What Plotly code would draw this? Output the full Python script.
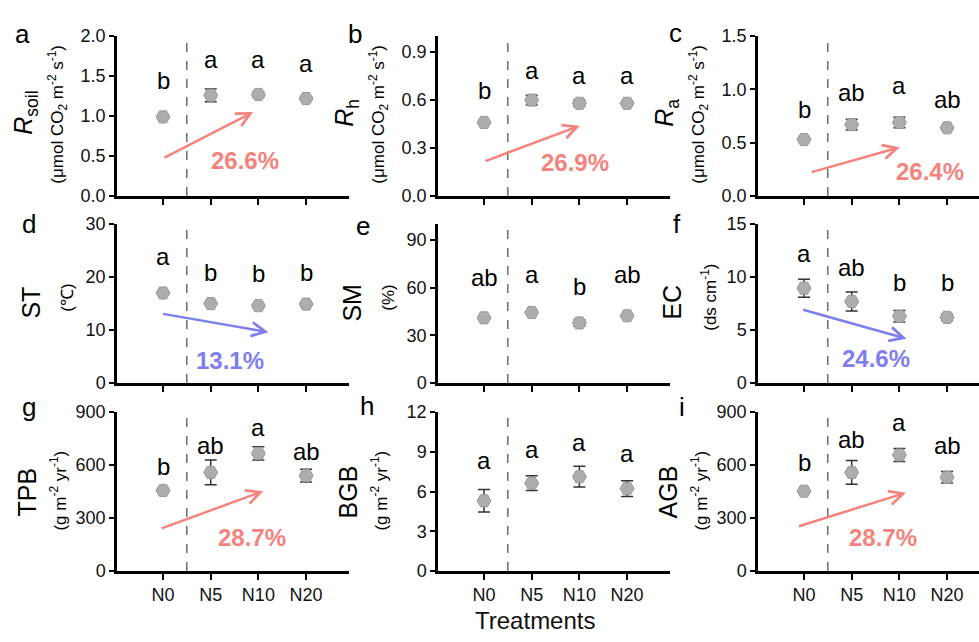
import plotly.graph_objects as go

treatments = ["N0", "N5", "N10", "N20"]

rsoil_mean = [0.99, 1.26, 1.27, 1.22]
rsoil_se = [0.02, 0.08, 0.03, 0.02]
rh_mean = [0.46, 0.60, 0.58, 0.58]
rh_se = [0.01, 0.03, 0.02, 0.01]
ra_mean = [0.53, 0.67, 0.69, 0.64]
ra_se = [0.01, 0.05, 0.05, 0.01]
st_mean = [17.0, 15.0, 14.6, 14.9]
st_se = [0.3, 0.2, 0.2, 0.2]
sm_mean = [41.0, 44.4, 37.8, 42.3]
sm_se = [0.5, 0.5, 2.0, 0.5]
ec_mean = [8.95, 7.7, 6.3, 6.2]
ec_se = [0.85, 0.9, 0.55, 0.3]
tpb_mean = [456, 558, 666, 540]
tpb_se = [12, 70, 38, 36]
bgb_mean = [5.3, 6.63, 7.12, 6.22]
bgb_se = [0.85, 0.56, 0.78, 0.6]
agb_mean = [452, 558, 657, 531]
agb_se = [10, 67, 37, 33]

rsoil_letters = ["b", "a", "a", "a"]
rh_letters = ["b", "a", "a", "a"]
ra_letters = ["b", "ab", "a", "ab"]
st_letters = ["a", "b", "b", "b"]
sm_letters = ["ab", "a", "b", "ab"]
ec_letters = ["a", "ab", "b", "b"]
tpb_letters = ["b", "ab", "a", "ab"]
bgb_letters = ["a", "a", "a", "a"]
agb_letters = ["b", "ab", "a", "ab"]

change_labels = {"a": "26.6%", "b": "26.9%", "c": "26.4%", "d": "13.1%",
                 "f": "24.6%", "g": "28.7%", "i": "28.7%"}

FONT = "Liberation Sans, Arial, sans-serif"
RED = "#F5837D"
BLUE = "#7E7EEE"

panels = [
    dict(tag="a", mean=rsoil_mean, se=rsoil_se, letters=rsoil_letters,
         letter_y=[1.44, 1.68, 1.68, 1.63], yr=[0, 2.0], tv=[0, 0.5, 1.0, 1.5, 2.0], fmt=".1f",
         title="<i>R</i><sub>soil</sub>", unit="(μmol CO<sub>2</sub> m<sup>-2</sup> s<sup>-1</sup>)",
         arrow=((0.0, 0.47), (1.89, 1.05), (1.72, 0.45)), color=RED),
    dict(tag="b", mean=rh_mean, se=rh_se, letters=rh_letters,
         letter_y=[0.657, 0.77, 0.74, 0.74], yr=[0, 1.0], tv=[0, 0.3, 0.6, 0.9], fmt=".1f",
         title="<i>R</i><sub>h</sub>", unit="(μmol CO<sub>2</sub> m<sup>-2</sup> s<sup>-1</sup>)",
         arrow=((0.0, 0.215), (2.01, 0.44), (1.91, 0.21)), color=RED),
    dict(tag="c", mean=ra_mean, se=ra_se, letters=ra_letters,
         letter_y=[0.81, 0.97, 1.02, 0.91], yr=[0, 1.5], tv=[0, 0.5, 1.0, 1.5], fmt=".1f",
         title="<i>R</i><sub>a</sub>", unit="(μmol CO<sub>2</sub> m<sup>-2</sup> s<sup>-1</sup>)",
         arrow=((0.13, 0.22), (2.01, 0.457), (2.64, 0.23)), color=RED),
    dict(tag="d", mean=st_mean, se=st_se, letters=st_letters,
         letter_y=[23.5, 20.8, 20.7, 20.8], yr=[0, 30], tv=[0, 10, 20, 30], fmt="d",
         title="ST", unit="(℃)",
         arrow=((-0.03, 13.1), (2.21, 9.6), (1.41, 4.26)), color=BLUE),
    dict(tag="e", mean=sm_mean, se=sm_se, letters=sm_letters,
         letter_y=[66.4, 66.9, 60.7, 68], yr=[0, 100], tv=[0, 30, 60, 90], fmt="d",
         title="SM", unit="(%)", arrow=None, color=None),
    dict(tag="f", mean=ec_mean, se=ec_se, letters=ec_letters,
         letter_y=[12.0, 10.9, 9.5, 9.5], yr=[0, 15], tv=[0, 5, 10, 15], fmt="d",
         title="EC", unit="(ds cm<sup>-1</sup>)",
         arrow=((-0.05, 6.95), (2.15, 4.18), (1.52, 2.35)), color=BLUE),
    dict(tag="g", mean=tpb_mean, se=tpb_se, letters=tpb_letters,
         letter_y=[589, 708, 803, 675], yr=[0, 900], tv=[0, 300, 600, 900], fmt="d",
         title="TPB", unit="(g m<sup>-2</sup> yr<sup>-1</sup>)",
         arrow=((-0.06, 238), (2.10, 452), (1.86, 192)), color=RED),
    dict(tag="h", mean=bgb_mean, se=bgb_se, letters=bgb_letters,
         letter_y=[8.17, 9.0, 9.56, 8.7], yr=[0, 12], tv=[0, 3, 6, 9, 12], fmt="d",
         title="BGB", unit="(g m<sup>-2</sup> yr<sup>-1</sup>)", arrow=None, color=None),
    dict(tag="i", mean=agb_mean, se=agb_se, letters=agb_letters,
         letter_y=[613, 745, 827, 712], yr=[0, 900], tv=[0, 300, 600, 900], fmt="d",
         title="AGB", unit="(g m<sup>-2</sup> yr<sup>-1</sup>)",
         arrow=((-0.14, 251), (2.14, 443), (1.65, 192)), color=RED),
]

W, H = 979, 642
col_px = [117, 438, 758]
col_dom = [(117 / W, 349 / W), (438 / W, 670 / W), (758 / W, 1.0)]
col_rng = [[-0.965, 3.9], [-0.965, 3.9], [-0.965, 3.67]]
row_px = [(27, 192), (221, 385), (415, 579)]
row_dom = [(1 - b / H, 1 - t / H) for (t, b) in row_px]

# label positions in pixels relative to each column's left edge
title_pos = {0: (25, 106), 1: (31, 302), 2: (27, 498)}
unit_pos = {0: (58, 108), 1: (68, 297), 2: (58, 496)}
tag_pos = [(22, 25), (355, 25), (675, 24), (29, 221), (363, 223), (677, 221),
           (29, 410), (367, 409), (682, 410)]

fig = go.Figure()
annotations = []
shapes = []

for i, p in enumerate(panels):
    r, c = divmod(i, 3)
    k = i + 1
    xr = "x" if k == 1 else f"x{k}"
    yr = "y" if k == 1 else f"y{k}"
    fig.add_trace(go.Scatter(
        x=treatments, y=p["mean"], mode="markers",
        xaxis=xr, yaxis=yr, showlegend=False,
        marker=dict(symbol="hexagon2", size=14, color="#ADADAD",
                    line=dict(color="#999999", width=1)),
        error_y=dict(type="data", array=p["se"], visible=True,
                     color="#333333", thickness=1.5, width=6),
    ))
    xname = "xaxis" if k == 1 else f"xaxis{k}"
    yname = "yaxis" if k == 1 else f"yaxis{k}"
    fig.layout[xname] = dict(
        domain=list(col_dom[c]), anchor=yr, type="category",
        categoryorder="array", categoryarray=treatments,
        range=col_rng[c], showline=True, linewidth=2.5, linecolor="black",
        ticks="outside", ticklen=6, tickwidth=2, tickcolor="black",
        showticklabels=(r == 2), tickfont=dict(size=18, family=FONT, color="#111"),
        showgrid=False, zeroline=False, fixedrange=True,
    )
    fig.layout[yname] = dict(
        domain=list(row_dom[r]), anchor=xr, range=p["yr"],
        tickvals=p["tv"], tickformat=p["fmt"],
        showline=True, linewidth=2.5, linecolor="black",
        ticks="outside", ticklen=5, tickwidth=2, tickcolor="black",
        tickfont=dict(size=18, family=FONT, color="#111"),
        showgrid=False, zeroline=False, fixedrange=True,
    )
    # dashed separator between control and N additions
    shapes.append(dict(type="line", xref=xr, yref=yr, x0=0.5, x1=0.5,
                       y0=0, y1=p["yr"][1],
                       line=dict(color="#222222", width=1, dash="dash")))
    # significance letters
    for t, lab, ly in zip(treatments, p["letters"], p["letter_y"]):
        annotations.append(dict(
            x=t, y=ly, xref=xr, yref=yr, text=lab, showarrow=False,
            xanchor="center", yanchor="middle", yshift=2 if lab == "a" else 0,
            font=dict(size=24, family=FONT, color="black")))
    # change arrow and percentage
    if p["arrow"] is not None:
        (sx, sy), (ex, ey), (tx, ty) = p["arrow"]
        annotations.append(dict(
            x=ex, y=ey, ax=sx, ay=sy, xref=xr, yref=yr, axref=xr, ayref=yr,
            text="", showarrow=True, arrowhead=5, arrowsize=1.1,
            arrowwidth=2.5, arrowcolor=p["color"], standoff=0))
        annotations.append(dict(
            x=tx, y=ty, xref=xr, yref=yr, text="<b>" + change_labels[p["tag"]] + "</b>",
            showarrow=False, xanchor="center", yanchor="middle",
            font=dict(size=24, family=FONT, color=p["color"])))
    # axis titles
    off = col_px[c] - 117
    tx_, ty_ = title_pos[r]
    ux_, uy_ = unit_pos[r]
    annotations.append(dict(
        x=(tx_ + off) / W, y=1 - ty_ / H, xref="paper", yref="paper",
        text=p["title"], textangle=-90, showarrow=False,
        xanchor="center", yanchor="middle",
        font=dict(size=25, family=FONT, color="black")))
    annotations.append(dict(
        x=(ux_ + off) / W, y=1 - uy_ / H, xref="paper", yref="paper",
        text=p["unit"], textangle=-90, showarrow=False,
        xanchor="center", yanchor="middle",
        font=dict(size=17, family=FONT, color="black")))
    # panel tag
    gx, gy = tag_pos[i]
    annotations.append(dict(
        x=gx / W, y=1 - gy / H, xref="paper", yref="paper", text=p["tag"],
        showarrow=False, xanchor="center", yanchor="middle",
        font=dict(size=26, family=FONT, color="black")))

annotations.append(dict(
    x=535 / W, y=1 - 630 / H, xref="paper", yref="paper", text="Treatments",
    showarrow=False, xanchor="center", yanchor="middle",
    font=dict(size=24, family=FONT, color="#111")))

fig.update_layout(
    width=W, height=H, margin=dict(l=0, r=0, t=0, b=0),
    paper_bgcolor="white", plot_bgcolor="white",
    annotations=annotations, shapes=shapes,
    font=dict(family=FONT),
)

fig.write_html("out.html")
